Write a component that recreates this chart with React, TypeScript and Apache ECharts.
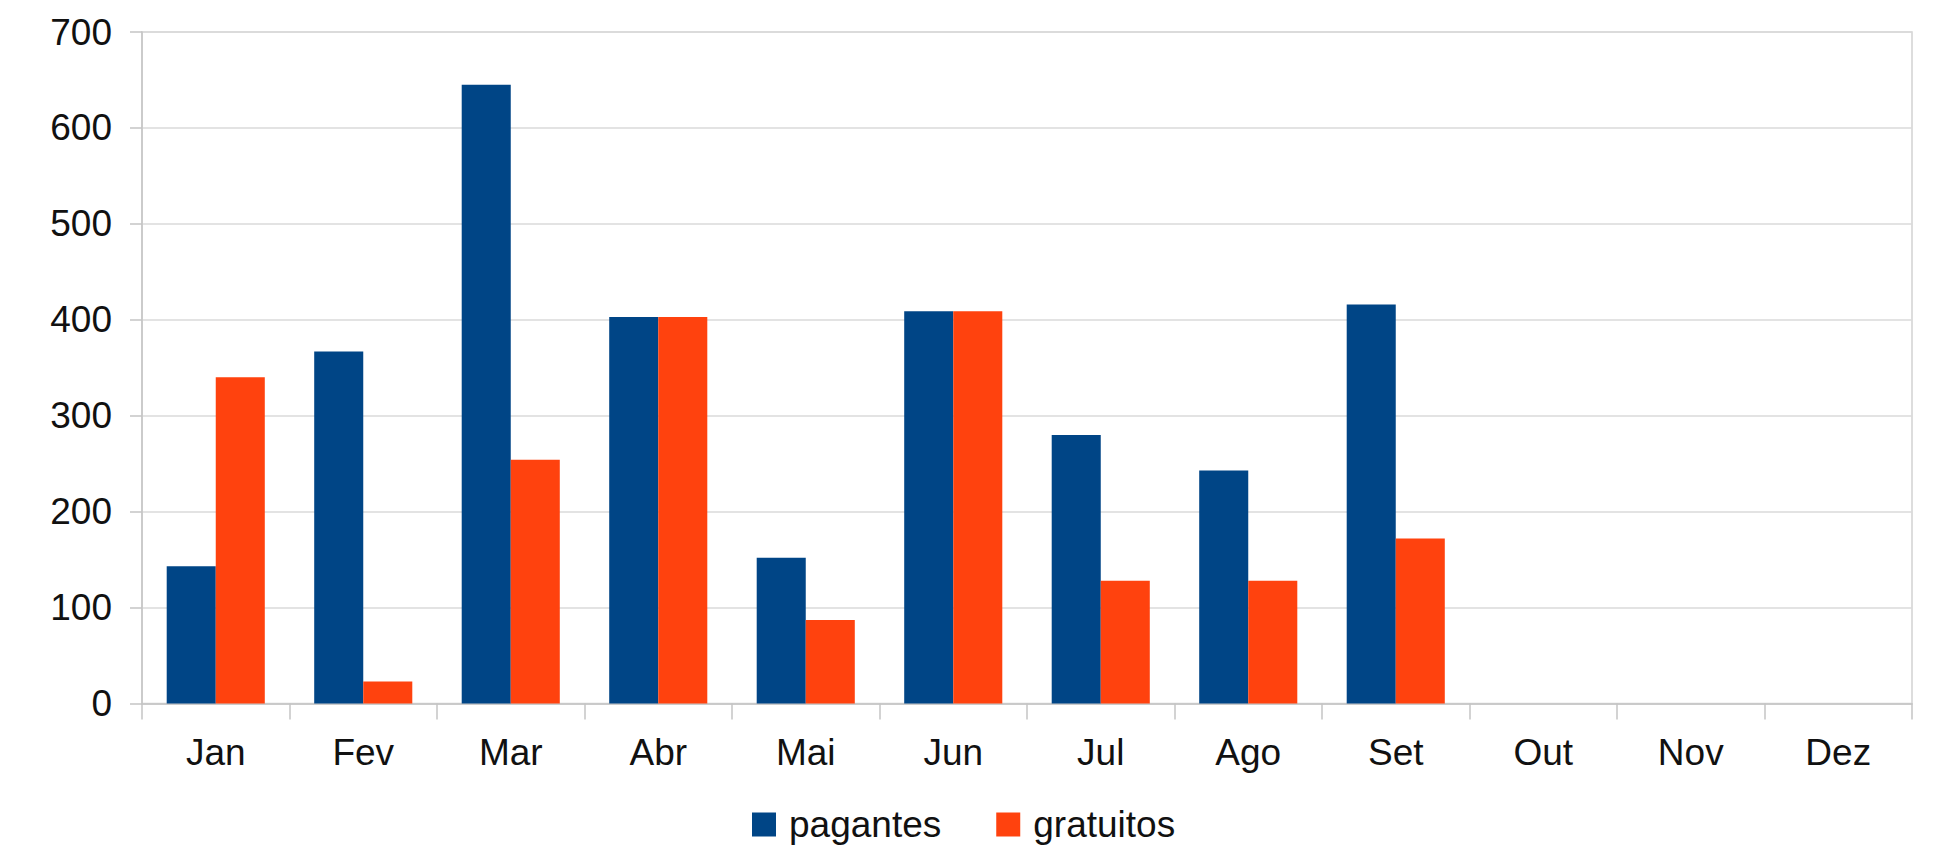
import React, { useEffect, useRef } from "react";
import * as echarts from "echarts";

const months = ["Jan", "Fev", "Mar", "Abr", "Mai", "Jun", "Jul", "Ago", "Set", "Out", "Nov", "Dez"];
const pagantes = [143, 367, 645, 403, 152, 409, 280, 243, 416, null, null, null];
const gratuitos = [340, 23, 254, 403, 87, 409, 128, 128, 172, null, null, null];
const seriesNames = ["pagantes", "gratuitos"];
const seriesColors = ["#004586", "#ff420e"];
const yTicks = { min: 0, max: 700, step: 100 };

const FONT = "'Liberation Sans', Arial, sans-serif";

export default function App() {
  const ref = useRef<HTMLDivElement>(null);
  useEffect(() => {
    if (!ref.current) return;
    const chart = echarts.init(ref.current, null, { renderer: "svg" });
    chart.setOption({
      animation: false,
      backgroundColor: "#ffffff",
      textStyle: { fontFamily: FONT },
      grid: {
        left: 142,
        right: 23,
        top: 32,
        bottom: 146.5,
        show: true,
        borderColor: "#d2d2d2",
        borderWidth: 1.5,
        backgroundColor: "transparent",
      },
      legend: {
        data: seriesNames,
        left: 752,
        top: 806,
        padding: 0,
        itemWidth: 24,
        itemHeight: 24,
        itemGap: 55,
        icon: "rect",
        textStyle: { fontSize: 37, color: "#111", fontFamily: FONT, padding: [0, 0, 0, 8] },
      },
      xAxis: {
        type: "category",
        data: months,
        boundaryGap: true,
        axisLine: { show: true, lineStyle: { color: "#c4c4c4", width: 1.5 } },
        axisTick: { show: true, length: 16, lineStyle: { color: "#c4c4c4", width: 1.5 } },
        axisLabel: { fontSize: 37, color: "#111", margin: 30, fontFamily: FONT },
        splitLine: { show: false },
      },
      yAxis: {
        type: "value",
        min: yTicks.min,
        max: yTicks.max,
        interval: yTicks.step,
        axisLine: { show: true, lineStyle: { color: "#c4c4c4", width: 1.5 } },
        axisTick: { show: true, length: 12, lineStyle: { color: "#c4c4c4", width: 1.5 } },
        axisLabel: { fontSize: 37, color: "#111", margin: 30, fontFamily: FONT },
        splitLine: { show: true, lineStyle: { color: "#dadada", width: 1.5 } },
      },
      series: [
        {
          name: seriesNames[0],
          type: "bar",
          data: pagantes,
          itemStyle: { color: seriesColors[0] },
          barGap: "0%",
          barCategoryGap: "33.5%",
        },
        {
          name: seriesNames[1],
          type: "bar",
          data: gratuitos,
          itemStyle: { color: seriesColors[1] },
          barGap: "0%",
          barCategoryGap: "33.5%",
        },
      ],
    });
    return () => chart.dispose();
  }, []);
  return (
    <div
      ref={ref}
      style={{ position: "fixed", left: 0, top: 0, width: 1935, height: 850 }}
    />
  );
}
